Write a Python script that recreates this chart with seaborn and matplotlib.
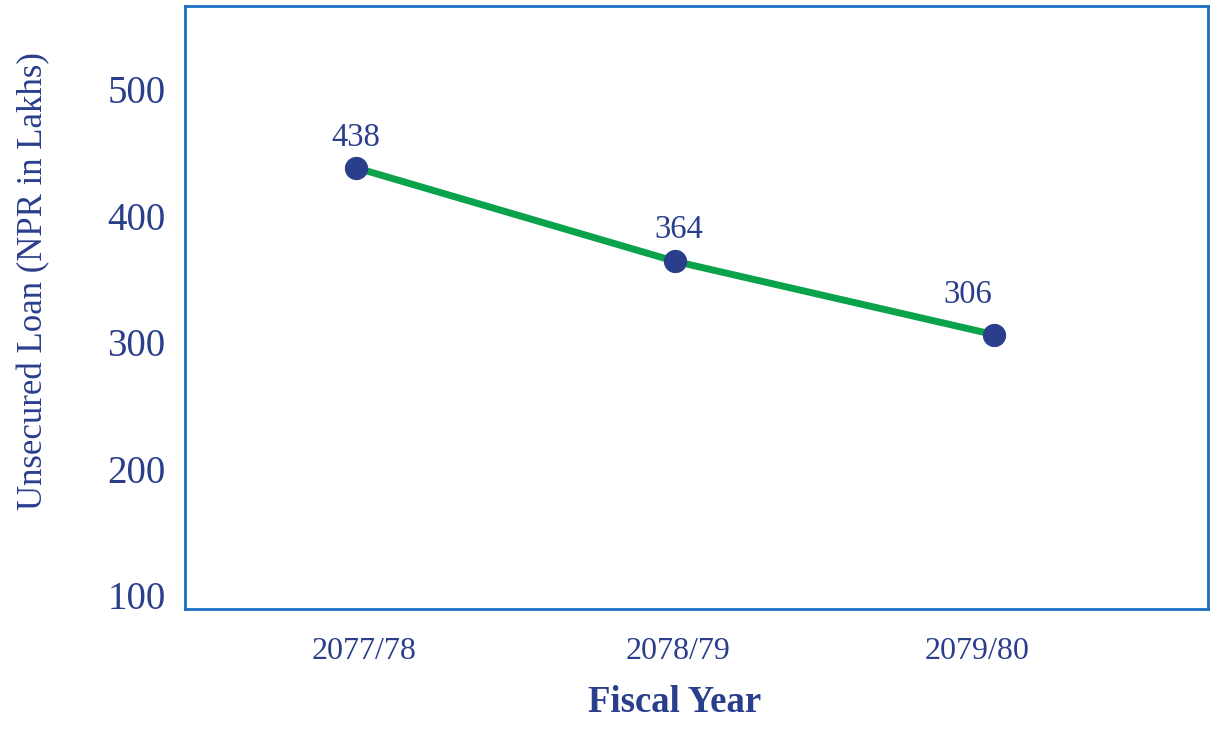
import matplotlib
matplotlib.use("Agg")
import matplotlib.pyplot as plt
import matplotlib.transforms as mtransforms
import seaborn as sns
import pandas as pd

years = ["2077/78", "2078/79", "2079/80"]
values = [438, 364, 306]
yticks = [100, 200, 300, 400, 500]

# label nudges (style only, in points)
label_dx = [0, 3, -19]
label_dy = [11, 12, 18]
tick_dx = [6, 2, -12]

sns.set_style("white")
plt.rcParams['font.family'] = ['Liberation Serif', 'DejaVu Serif']

navy = "#2B3E8C"
green = "#0AA24A"
spine = "#1B6FC0"

df = pd.DataFrame({"year": years, "value": values})

fig = plt.figure(figsize=(12.1, 7.29), dpi=100)
ax = fig.add_axes([185/1210, 1-609/729, (1208-185)/1210, (609-6)/729])

sns.lineplot(data=df, x="year", y="value", ax=ax, color=green, linewidth=5,
             marker="o", markersize=16, markerfacecolor=navy, markeredgecolor=navy,
             sort=False)

for i, v in enumerate(values):
    ax.annotate(str(v), (i, v), xytext=(label_dx[i], label_dy[i]), textcoords="offset points",
                ha="center", va="bottom", fontsize=23.5, color=navy)

ax.set_xlim(-0.536, 2.67)
ax.set_ylim(89, 566)
ax.set_yticks(yticks)
ax.set_yticklabels([str(t) for t in yticks])
ax.tick_params(axis="y", labelsize=28, colors=navy, length=0, pad=14)
ax.tick_params(axis="x", labelsize=23, colors=navy, length=0, pad=20)
for lbl, dx in zip(ax.get_xticklabels(), tick_dx):
    lbl.set_transform(lbl.get_transform() +
                      mtransforms.ScaledTranslation(dx / 72, 0, fig.dpi_scale_trans))
ax.set_xlabel("Fiscal Year", fontsize=26.5, fontweight="bold", color=navy)
ax.set_ylabel("Unsecured Loan (NPR in Lakhs)", fontsize=25, color=navy)
ax.xaxis.set_label_coords(0.479, -0.126)
ax.yaxis.set_label_coords(-0.132, 0.544)

for s in ax.spines.values():
    s.set_color(spine)
    s.set_linewidth(2)

fig.savefig("out.png", dpi=100)
